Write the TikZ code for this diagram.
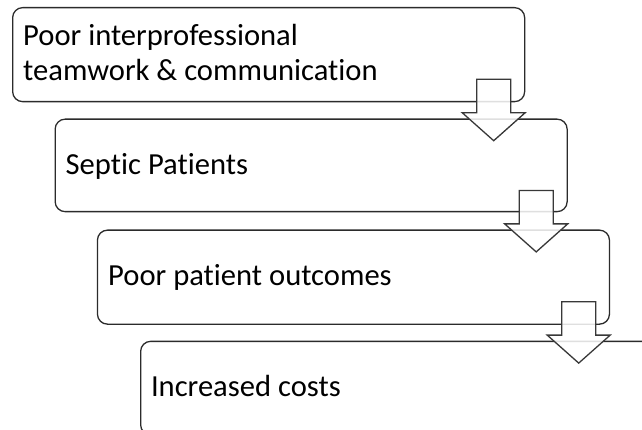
\documentclass[tikz,border=0pt]{standalone}
\usepackage{fontspec}
\setmainfont{Carlito}[Ligatures=NoCommon]
\usetikzlibrary{calc}
\definecolor{edge}{HTML}{2B2B2B}
\definecolor{arrowedge}{HTML}{383838}
\tikzset{
  box/.style={draw=edge, line width=1.3pt, rounded corners=10pt, fill=white,
    minimum width=512pt, inner sep=0pt, anchor=north west},
  lbl/.style={inner sep=0pt, anchor=base west, align=left,
    font=\fontsize{30.6}{35}\selectfont, text=black},
  blockarrow/.style={draw=arrowedge, line width=1.3pt, fill=white, fill opacity=0.85, line join=miter}
}
\newcommand\downblockarrow[1]{%
  \draw[blockarrow] ([shift={(-17,0)}]#1) -- ++(34,0) -- ++(0,33.4) -- ++(14.5,0)
    -- ++(-31.5,28) -- ++(-31.5,-28) -- ++(14.5,0) -- cycle;}
\begin{document}
\begin{tikzpicture}[x=1pt,y=-1pt]
\useasboundingbox (0,0) rectangle (642,430);
\clip (0,0) rectangle (642,430);
\fill[white] (0,0) rectangle (642,430);
\node[box, minimum height=94pt] (b1) at (12,7) {};
\node[box, minimum height=92.5pt] (b2) at (54.5,118.5) {};
\node[box, minimum height=94pt] (b3) at (96.8,229.5) {};
\node[box, minimum height=93.5pt] (b4) at (140,340.7) {};
\node[lbl] (t1) at (23,81) {Poor interprofessional\\[0pt]teamwork \& communication};
\node[lbl] (t2) at (65.5,175) {Septic Patients};
\node[lbl] (t3) at (108,285.7) {Poor patient outcomes};
\node[lbl] (t4) at (150.8,396.7) {Increased costs};
\coordinate (a1) at (493.7,79.3);
\coordinate (a2) at (536.2,190.5);
\coordinate (a3) at (578.7,301.7);
\downblockarrow{a1}
\downblockarrow{a2}
\downblockarrow{a3}
\end{tikzpicture}
\end{document}
